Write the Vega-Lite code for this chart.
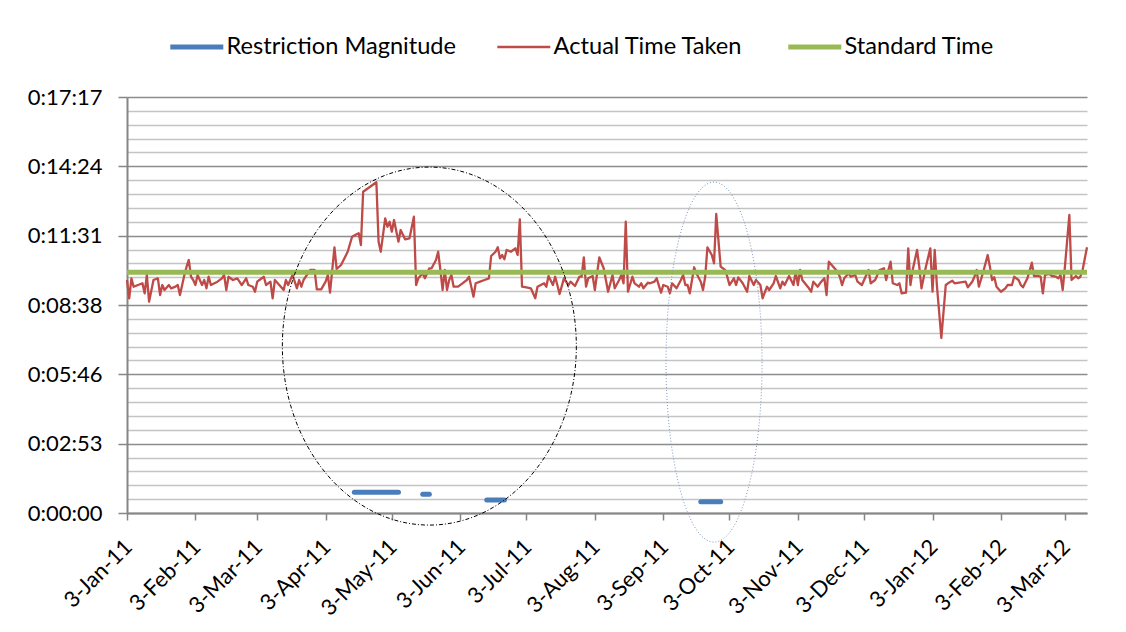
{
  "$schema": "https://vega.github.io/schema/vega-lite/v6.json",
  "autosize": "none",
  "width": 960,
  "height": 416,
  "padding": {"left": 127, "top": 97, "right": 39, "bottom": 119},
  "background": "white",
  "config": {"font": "Lato", "view": {"stroke": null}},
  "datasets": {
    "restriction": [
      {"date": "2011-04-16", "sec": 51.6, "seg": 1}, {"date": "2011-05-06", "sec": 51.6, "seg": 1},
      {"date": "2011-05-17", "sec": 46.6, "seg": 2}, {"date": "2011-05-20", "sec": 46.6, "seg": 2},
      {"date": "2011-06-15", "sec": 32.4, "seg": 3}, {"date": "2011-06-23", "sec": 32.4, "seg": 3},
      {"date": "2011-09-20", "sec": 28.2, "seg": 4}, {"date": "2011-09-29", "sec": 28.2, "seg": 4}
    ],
    "actual": [
      {"date":"2011-01-03","sec":580.7},{"date":"2011-01-04","sec":535.1},{"date":"2011-01-05","sec":584.9},{"date":"2011-01-06","sec":564.0},{"date":"2011-01-08","sec":568.2},{"date":"2011-01-10","sec":572.5},{"date":"2011-01-11","sec":547.6},{"date":"2011-01-12","sec":593.2},{"date":"2011-01-13","sec":526.6},{"date":"2011-01-15","sec":580.7},{"date":"2011-01-17","sec":584.9},{"date":"2011-01-18","sec":543.3},{"date":"2011-01-19","sec":568.2},{"date":"2011-01-20","sec":555.8},{"date":"2011-01-22","sec":568.2},{"date":"2011-01-23","sec":560.0},{"date":"2011-01-25","sec":564.0},{"date":"2011-01-26","sec":568.2},{"date":"2011-01-27","sec":543.3},{"date":"2011-01-29","sec":593.2},{"date":"2011-01-30","sec":613.9},{"date":"2011-01-31","sec":630.6},
      {"date":"2011-02-01","sec":588.9},{"date":"2011-02-02","sec":580.7},{"date":"2011-02-03","sec":568.2},{"date":"2011-02-04","sec":593.2},{"date":"2011-02-06","sec":568.2},{"date":"2011-02-07","sec":580.7},{"date":"2011-02-08","sec":560.0},{"date":"2011-02-09","sec":588.9},{"date":"2011-02-10","sec":568.2},{"date":"2011-02-13","sec":576.5},{"date":"2011-02-15","sec":584.9},{"date":"2011-02-16","sec":593.2},{"date":"2011-02-17","sec":555.8},{"date":"2011-02-18","sec":588.9},{"date":"2011-02-20","sec":580.7},{"date":"2011-02-22","sec":584.9},{"date":"2011-02-24","sec":568.2},{"date":"2011-02-26","sec":584.9},{"date":"2011-02-27","sec":568.2},
      {"date":"2011-03-01","sec":564.0},{"date":"2011-03-02","sec":551.5},{"date":"2011-03-03","sec":576.5},{"date":"2011-03-04","sec":580.7},{"date":"2011-03-06","sec":588.9},{"date":"2011-03-07","sec":568.2},{"date":"2011-03-09","sec":576.5},{"date":"2011-03-10","sec":535.1},{"date":"2011-03-11","sec":580.7},{"date":"2011-03-13","sec":568.2},{"date":"2011-03-15","sec":555.8},{"date":"2011-03-16","sec":580.7},{"date":"2011-03-17","sec":568.2},{"date":"2011-03-19","sec":593.2},{"date":"2011-03-20","sec":576.5},{"date":"2011-03-21","sec":560.0},{"date":"2011-03-22","sec":580.7},{"date":"2011-03-23","sec":564.0},{"date":"2011-03-24","sec":580.7},{"date":"2011-03-26","sec":597.4},{"date":"2011-03-27","sec":605.6},{"date":"2011-03-29","sec":605.6},{"date":"2011-03-30","sec":557.5},
      {"date":"2011-04-01","sec":557.5},{"date":"2011-04-03","sec":576.5},{"date":"2011-04-04","sec":593.2},{"date":"2011-04-05","sec":549.1},{"date":"2011-04-07","sec":662.2},{"date":"2011-04-08","sec":608.1},{"date":"2011-04-10","sec":618.1},{"date":"2011-04-13","sec":651.2},{"date":"2011-04-15","sec":688.6},{"date":"2011-04-17","sec":694.6},{"date":"2011-04-18","sec":697.1},{"date":"2011-04-19","sec":667.9},{"date":"2011-04-20","sec":800.8},{"date":"2011-04-26","sec":824.2},{"date":"2011-04-27","sec":676.2},{"date":"2011-04-28","sec":651.2},{"date":"2011-04-30","sec":734.5},
      {"date":"2011-05-01","sec":713.5},{"date":"2011-05-02","sec":726.0},{"date":"2011-05-03","sec":701.1},{"date":"2011-05-04","sec":730.2},{"date":"2011-05-06","sec":676.2},{"date":"2011-05-07","sec":705.3},{"date":"2011-05-09","sec":682.1},{"date":"2011-05-11","sec":684.6},{"date":"2011-05-13","sec":738.5},{"date":"2011-05-14","sec":568.2},{"date":"2011-05-15","sec":584.9},{"date":"2011-05-17","sec":597.4},{"date":"2011-05-18","sec":584.9},{"date":"2011-05-20","sec":609.9},{"date":"2011-05-21","sec":609.9},{"date":"2011-05-23","sec":630.6},{"date":"2011-05-24","sec":651.2},{"date":"2011-05-25","sec":605.6},{"date":"2011-05-26","sec":555.8},{"date":"2011-05-27","sec":605.6},{"date":"2011-05-28","sec":555.8},{"date":"2011-05-29","sec":580.7},{"date":"2011-05-30","sec":593.2},{"date":"2011-05-31","sec":564.0},
      {"date":"2011-06-02","sec":564.0},{"date":"2011-06-04","sec":572.5},{"date":"2011-06-06","sec":580.7},{"date":"2011-06-07","sec":588.9},{"date":"2011-06-09","sec":539.1},{"date":"2011-06-10","sec":572.5},{"date":"2011-06-12","sec":576.5},{"date":"2011-06-14","sec":580.7},{"date":"2011-06-16","sec":584.9},{"date":"2011-06-17","sec":640.5},{"date":"2011-06-19","sec":651.2},{"date":"2011-06-20","sec":662.2},{"date":"2011-06-21","sec":634.8},{"date":"2011-06-22","sec":643.0},{"date":"2011-06-23","sec":632.3},{"date":"2011-06-24","sec":655.5},{"date":"2011-06-26","sec":651.2},{"date":"2011-06-27","sec":655.5},{"date":"2011-06-28","sec":659.7},{"date":"2011-06-29","sec":643.0},{"date":"2011-06-30","sec":732.0},
      {"date":"2011-07-01","sec":564.0},{"date":"2011-07-03","sec":562.5},{"date":"2011-07-05","sec":560.0},{"date":"2011-07-07","sec":535.1},{"date":"2011-07-08","sec":564.0},{"date":"2011-07-11","sec":572.5},{"date":"2011-07-12","sec":564.0},{"date":"2011-07-13","sec":590.7},{"date":"2011-07-15","sec":568.2},{"date":"2011-07-16","sec":588.9},{"date":"2011-07-17","sec":568.2},{"date":"2011-07-18","sec":545.8},{"date":"2011-07-20","sec":584.9},{"date":"2011-07-22","sec":568.2},{"date":"2011-07-23","sec":576.5},{"date":"2011-07-25","sec":565.8},{"date":"2011-07-27","sec":588.9},{"date":"2011-07-28","sec":588.9},{"date":"2011-07-29","sec":637.3},{"date":"2011-07-30","sec":564.0},{"date":"2011-07-31","sec":584.9},
      {"date":"2011-08-02","sec":590.7},{"date":"2011-08-03","sec":555.8},{"date":"2011-08-05","sec":637.3},{"date":"2011-08-07","sec":609.9},{"date":"2011-08-08","sec":580.7},{"date":"2011-08-09","sec":551.5},{"date":"2011-08-11","sec":593.2},{"date":"2011-08-12","sec":560.0},{"date":"2011-08-14","sec":580.7},{"date":"2011-08-15","sec":593.2},{"date":"2011-08-16","sec":572.5},{"date":"2011-08-17","sec":726.0},{"date":"2011-08-18","sec":551.5},{"date":"2011-08-20","sec":588.9},{"date":"2011-08-21","sec":572.5},{"date":"2011-08-23","sec":564.0},{"date":"2011-08-24","sec":572.5},{"date":"2011-08-25","sec":560.0},{"date":"2011-08-27","sec":574.0},{"date":"2011-08-28","sec":572.5},{"date":"2011-08-30","sec":576.5},{"date":"2011-08-31","sec":584.9},
      {"date":"2011-09-02","sec":549.1},{"date":"2011-09-03","sec":568.2},{"date":"2011-09-05","sec":564.0},{"date":"2011-09-06","sec":547.6},{"date":"2011-09-07","sec":572.5},{"date":"2011-09-09","sec":560.0},{"date":"2011-09-11","sec":580.7},{"date":"2011-09-12","sec":593.2},{"date":"2011-09-13","sec":568.2},{"date":"2011-09-14","sec":568.2},{"date":"2011-09-15","sec":547.6},{"date":"2011-09-17","sec":612.4},{"date":"2011-09-18","sec":597.4},{"date":"2011-09-20","sec":576.5},{"date":"2011-09-21","sec":555.8},{"date":"2011-09-22","sec":588.9},{"date":"2011-09-23","sec":662.2},{"date":"2011-09-25","sec":643.0},{"date":"2011-09-26","sec":622.3},{"date":"2011-09-27","sec":745.2},{"date":"2011-09-29","sec":613.9},
      {"date":"2011-10-01","sec":605.6},{"date":"2011-10-02","sec":588.9},{"date":"2011-10-03","sec":568.2},{"date":"2011-10-05","sec":584.9},{"date":"2011-10-06","sec":568.2},{"date":"2011-10-07","sec":587.4},{"date":"2011-10-09","sec":572.5},{"date":"2011-10-11","sec":551.5},{"date":"2011-10-12","sec":590.7},{"date":"2011-10-14","sec":568.2},{"date":"2011-10-15","sec":580.7},{"date":"2011-10-17","sec":568.2},{"date":"2011-10-18","sec":535.1},{"date":"2011-10-20","sec":564.0},{"date":"2011-10-21","sec":555.8},{"date":"2011-10-23","sec":572.5},{"date":"2011-10-24","sec":590.7},{"date":"2011-10-26","sec":560.0},{"date":"2011-10-27","sec":576.5},{"date":"2011-10-28","sec":568.2},{"date":"2011-10-30","sec":590.7},
      {"date":"2011-11-01","sec":568.2},{"date":"2011-11-02","sec":601.4},{"date":"2011-11-03","sec":568.2},{"date":"2011-11-04","sec":605.6},{"date":"2011-11-05","sec":580.7},{"date":"2011-11-08","sec":560.0},{"date":"2011-11-09","sec":551.5},{"date":"2011-11-10","sec":576.5},{"date":"2011-11-12","sec":564.0},{"date":"2011-11-13","sec":572.5},{"date":"2011-11-15","sec":584.9},{"date":"2011-11-16","sec":543.3},{"date":"2011-11-17","sec":626.3},{"date":"2011-11-19","sec":613.9},{"date":"2011-11-21","sec":601.4},{"date":"2011-11-22","sec":588.9},{"date":"2011-11-23","sec":568.2},{"date":"2011-11-24","sec":584.9},{"date":"2011-11-26","sec":597.4},{"date":"2011-11-27","sec":588.9},{"date":"2011-11-29","sec":593.2},{"date":"2011-11-30","sec":576.5},
      {"date":"2011-12-02","sec":568.2},{"date":"2011-12-03","sec":580.7},{"date":"2011-12-05","sec":605.6},{"date":"2011-12-06","sec":572.5},{"date":"2011-12-08","sec":580.7},{"date":"2011-12-10","sec":605.6},{"date":"2011-12-12","sec":609.9},{"date":"2011-12-13","sec":580.7},{"date":"2011-12-14","sec":605.6},{"date":"2011-12-15","sec":626.3},{"date":"2011-12-16","sec":572.5},{"date":"2011-12-18","sec":568.2},{"date":"2011-12-19","sec":572.5},{"date":"2011-12-20","sec":547.6},{"date":"2011-12-22","sec":549.1},{"date":"2011-12-23","sec":659.7},{"date":"2011-12-24","sec":568.2},{"date":"2011-12-25","sec":605.6},{"date":"2011-12-27","sec":655.5},{"date":"2011-12-28","sec":613.9},{"date":"2011-12-29","sec":560.0},{"date":"2011-12-31","sec":613.9},
      {"date":"2012-01-02","sec":659.7},{"date":"2012-01-03","sec":551.5},{"date":"2012-01-04","sec":655.5},{"date":"2012-01-05","sec":565.8},{"date":"2012-01-07","sec":436.2},{"date":"2012-01-09","sec":568.2},{"date":"2012-01-10","sec":572.5},{"date":"2012-01-12","sec":579.0},{"date":"2012-01-13","sec":572.5},{"date":"2012-01-15","sec":574.0},{"date":"2012-01-18","sec":576.5},{"date":"2012-01-19","sec":562.5},{"date":"2012-01-21","sec":576.5},{"date":"2012-01-22","sec":588.9},{"date":"2012-01-23","sec":605.6},{"date":"2012-01-24","sec":564.0},{"date":"2012-01-26","sec":601.4},{"date":"2012-01-28","sec":643.0},{"date":"2012-01-29","sec":613.9},{"date":"2012-01-30","sec":580.7},{"date":"2012-01-31","sec":587.4},
      {"date":"2012-02-01","sec":564.0},{"date":"2012-02-03","sec":551.5},{"date":"2012-02-05","sec":560.0},{"date":"2012-02-06","sec":568.2},{"date":"2012-02-08","sec":568.2},{"date":"2012-02-09","sec":588.9},{"date":"2012-02-11","sec":580.7},{"date":"2012-02-12","sec":568.2},{"date":"2012-02-13","sec":562.5},{"date":"2012-02-15","sec":584.9},{"date":"2012-02-17","sec":623.8},{"date":"2012-02-18","sec":590.7},{"date":"2012-02-20","sec":590.7},{"date":"2012-02-21","sec":588.9},{"date":"2012-02-22","sec":547.6},{"date":"2012-02-23","sec":593.2},{"date":"2012-02-25","sec":595.7},{"date":"2012-02-26","sec":590.7},{"date":"2012-02-28","sec":588.9},{"date":"2012-02-29","sec":584.9},
      {"date":"2012-03-01","sec":593.2},{"date":"2012-03-02","sec":555.8},{"date":"2012-03-03","sec":613.9},{"date":"2012-03-05","sec":742.7},{"date":"2012-03-06","sec":580.7},{"date":"2012-03-08","sec":590.7},{"date":"2012-03-09","sec":584.9},{"date":"2012-03-10","sec":588.9},{"date":"2012-03-11","sec":605.6},{"date":"2012-03-13","sec":662.2}
    ],
    "standard": [
      {"date": "2011-01-03", "sec": 600}, {"date": "2012-03-13", "sec": 600}
    ],
    "circle1": [{"date": "2011-05-20", "sec": 416}],
    "circle2": [{"date": "2011-09-26", "sec": 376}]
  },
  "encoding": {
    "x": {
      "field": "date", "type": "temporal",
      "scale": {"type": "utc", "domain": [{"year": 2011, "month": 1, "date": 3, "utc": true}, {"year": 2012, "month": 3, "date": 13, "utc": true}]},
      "axis": {
        "title": null, "grid": false, "format": "%-d-%b-%y",
        "values": [
          {"year": 2011, "month": 1, "date": 3, "utc": true}, {"year": 2011, "month": 2, "date": 3, "utc": true},
          {"year": 2011, "month": 3, "date": 3, "utc": true}, {"year": 2011, "month": 4, "date": 3, "utc": true},
          {"year": 2011, "month": 5, "date": 3, "utc": true}, {"year": 2011, "month": 6, "date": 3, "utc": true},
          {"year": 2011, "month": 7, "date": 3, "utc": true}, {"year": 2011, "month": 8, "date": 3, "utc": true},
          {"year": 2011, "month": 9, "date": 3, "utc": true}, {"year": 2011, "month": 10, "date": 3, "utc": true},
          {"year": 2011, "month": 11, "date": 3, "utc": true}, {"year": 2011, "month": 12, "date": 3, "utc": true},
          {"year": 2012, "month": 1, "date": 3, "utc": true}, {"year": 2012, "month": 2, "date": 3, "utc": true},
          {"year": 2012, "month": 3, "date": 3, "utc": true}
        ],
        "labelAngle": -45, "labelAlign": "right", "labelBaseline": "top",
        "labelFont": "Lato", "labelFontSize": 22, "labelColor": "black",
        "labelPadding": 16, "labelOffset": -6, "labelOverlap": false, "labelFlush": false,
        "domainColor": "#868686", "domainWidth": 2,
        "tickColor": "#868686", "tickWidth": 1.5, "tickSize": 7
      }
    },
    "y": {
      "field": "sec", "type": "quantitative",
      "scale": {"domain": [0, 1036.8], "nice": false, "zero": true},
      "axis": {
        "title": null,
        "values": [0, 34.56, 69.12, 103.68, 138.24, 172.8, 207.36, 241.92, 276.48, 311.04, 345.6, 380.16, 414.72, 449.28, 483.84, 518.4, 552.96, 587.52, 622.08, 656.64, 691.2, 725.76, 760.32, 794.88, 829.44, 864, 898.56, 933.12, 967.68, 1002.24, 1036.8],
        "labelExpr": "abs(datum.value/172.8 - round(datum.value/172.8)) < 0.01 ? (floor(round(datum.value)/3600) + ':' + pad(floor((round(datum.value)%3600)/60), 2, '0', 'left') + ':' + pad(round(datum.value)%60, 2, '0', 'left')) : ''",
        "grid": true,
        "gridColor": {"condition": {"test": "abs(datum.value/172.8 - round(datum.value/172.8)) < 0.01", "value": "#8C8C8C"}, "value": "#C4C4C4"},
        "gridWidth": 1.6,
        "tickOpacity": {"condition": {"test": "abs(datum.value/172.8 - round(datum.value/172.8)) < 0.01", "value": 1}, "value": 0},
        "tickColor": "#868686", "tickWidth": 1.5, "tickSize": 9,
        "labelFont": "Lato", "labelFontSize": 22, "labelColor": "black", "labelPadding": 16,
        "labelBaseline": "middle", "labelOverlap": false, "labelFlush": false,
        "domainColor": "#868686", "domainWidth": 2
      }
    }
  },
  "layer": [
    {
      "data": {"name": "restriction"},
      "mark": {"type": "line", "strokeWidth": 5, "strokeCap": "round"},
      "encoding": {
        "detail": {"field": "seg", "type": "nominal"},
        "color": {
          "datum": "Restriction Magnitude", "type": "nominal",
          "scale": {"domain": ["Restriction Magnitude", "Actual Time Taken", "Standard Time"], "range": ["#4A7EBB", "#BE4B48", "#98B954"]},
          "legend": {
            "title": null, "orient": "none", "legendX": 58, "legendY": -62, "direction": "horizontal",
            "symbolType": "stroke", "symbolSize": 2809, "symbolStrokeWidth": {"expr": "datum.value === 'Actual Time Taken' ? 2.5 : 5"},
            "labelFont": "Lato", "labelFontSize": 23.6, "labelColor": "black", "labelLimit": 400,
            "labelOffset": 18, "columnPadding": 35
          }
        }
      }
    },
    {
      "data": {"name": "actual"},
      "mark": {"type": "line", "strokeWidth": 2.3, "strokeJoin": "round"},
      "encoding": {"color": {"datum": "Actual Time Taken", "type": "nominal"}}
    },
    {
      "data": {"name": "standard"},
      "mark": {"type": "line", "strokeWidth": 5},
      "encoding": {"color": {"datum": "Standard Time", "type": "nominal"}}
    },
    {
      "data": {"name": "circle1"},
      "mark": {"type": "point", "shape": "M 0.8212 0 C 0.8212 0.5523 0.4536 1 0 1 C -0.4536 1 -0.8212 0.5523 -0.8212 0 C -0.8212 -0.5523 -0.4536 -1 0 -1 C 0.4536 -1 0.8212 -0.5523 0.8212 0 Z", "size": 128164, "filled": false, "stroke": "black", "strokeWidth": 1, "strokeDash": [4, 2, 1, 2], "opacity": 1}
    },
    {
      "data": {"name": "circle2"},
      "mark": {"type": "point", "shape": "M 0.2667 0 C 0.2667 0.5523 0.1473 1 0 1 C -0.1473 1 -0.2667 0.5523 -0.2667 0 C -0.2667 -0.5523 -0.1473 -1 0 -1 C 0.1473 -1 0.2667 -0.5523 0.2667 0 Z", "size": 129600, "filled": false, "stroke": "#7D98BE", "strokeWidth": 1, "strokeDash": [1, 2], "opacity": 1}
    }
  ]
}
